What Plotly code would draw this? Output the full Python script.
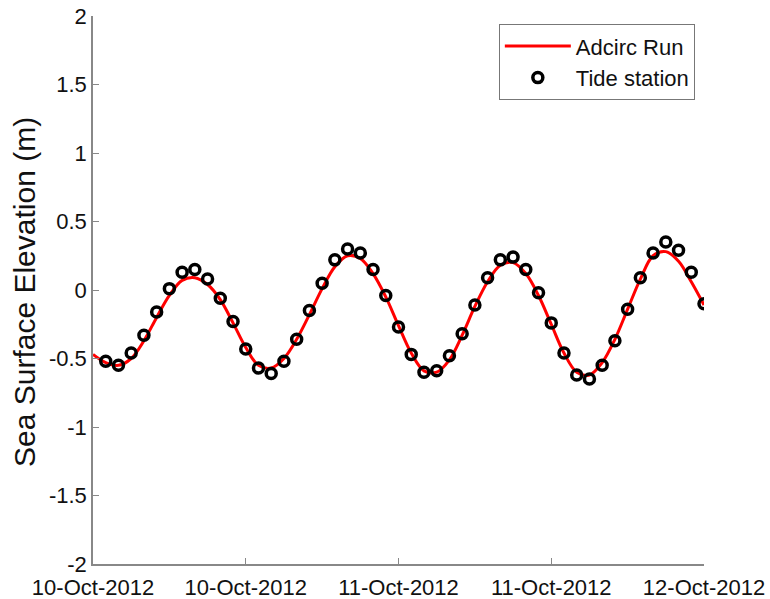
import plotly.graph_objects as go
import pandas as pd

# Hourly times from 10-Oct-2012 00:00 to 12-Oct-2012 00:00
model_hours = list(range(0, 49))
model_values = [-0.47, -0.53, -0.55, -0.50, -0.37, -0.20, -0.04, 0.07, 0.09, 0.04,
                -0.07, -0.24, -0.42, -0.55, -0.57, -0.50, -0.36, -0.18, 0.01, 0.17,
                0.25, 0.23, 0.12, -0.05, -0.26, -0.46, -0.59, -0.60, -0.51, -0.33,
                -0.12, 0.06, 0.18, 0.20, 0.12, -0.04, -0.25, -0.46, -0.60, -0.62,
                -0.53, -0.36, -0.14, 0.08, 0.25, 0.28, 0.21, 0.06, -0.11]

obs_hours = list(range(1, 49))
obs_values = [-0.52, -0.55, -0.46, -0.33, -0.16, 0.01, 0.13, 0.15, 0.08, -0.06,
              -0.23, -0.43, -0.57, -0.61, -0.52, -0.36, -0.15, 0.05, 0.22, 0.30,
              0.27, 0.15, -0.04, -0.27, -0.47, -0.60, -0.59, -0.48, -0.32, -0.11,
              0.09, 0.22, 0.24, 0.15, -0.02, -0.24, -0.46, -0.62, -0.65, -0.55,
              -0.37, -0.14, 0.09, 0.27, 0.35, 0.29, 0.13, -0.10]

tick_hours = [0, 12, 24, 36, 48]
tick_labels = ["10-Oct-2012", "10-Oct-2012", "11-Oct-2012", "11-Oct-2012", "12-Oct-2012"]
y_ticks = [-2, -1.5, -1, -0.5, 0, 0.5, 1, 1.5, 2]
y_tick_labels = ["-2", "-1.5", "-1", "-0.5", "0", "0.5", "1", "1.5", "2"]

start = pd.Timestamp("2012-10-10 00:00")
to_time = lambda hs: [start + pd.Timedelta(hours=h) for h in hs]

FONT = "Liberation Sans, Arial, Helvetica, sans-serif"

fig = go.Figure()
fig.add_trace(go.Scatter(
    x=to_time(model_hours), y=model_values, mode="lines", name="Adcirc Run",
    line=dict(color="#ff0000", width=3, shape="spline", smoothing=1.0),
))
fig.add_trace(go.Scatter(
    x=to_time(obs_hours), y=obs_values, mode="markers", name="Tide station",
    marker=dict(symbol="circle-open", size=10, color="black", line=dict(width=3.5, color="black")),
))

fig.update_layout(
    width=770, height=599,
    margin=dict(l=93, r=66, t=16, b=35),
    paper_bgcolor="white", plot_bgcolor="white",
    font=dict(family=FONT, color="#111111"),
    showlegend=True,
    legend=dict(
        x=0.985, y=0.985, xanchor="right", yanchor="top",
        bgcolor="white", bordercolor="#777777", borderwidth=1,
        font=dict(size=22, family=FONT, color="#111111"),
        tracegroupgap=0, itemwidth=66,
    ),
    xaxis=dict(
        range=[start, start + pd.Timedelta(hours=48)],
        tickvals=to_time(tick_hours), ticktext=tick_labels,
        showline=True, linecolor="#888888", linewidth=1.5,
        ticks="inside", ticklen=6, tickcolor="#888888", tickwidth=1,
        showgrid=False, zeroline=False, ticklabelstandoff=3, automargin=False,
        tickfont=dict(size=22, family=FONT, color="#111111"),
    ),
    yaxis=dict(
        range=[-2, 2], tickvals=y_ticks, ticktext=y_tick_labels,
        showline=True, linecolor="#888888", linewidth=1.5,
        ticks="inside", ticklen=6, tickcolor="#888888", tickwidth=1,
        showgrid=False, zeroline=False, automargin=False,
        tickfont=dict(size=22, family=FONT, color="#111111"),
    ),
    annotations=[dict(
        text="Sea Surface Elevation (m)", textangle=-90,
        xref="paper", yref="paper", x=0, y=0.5, xshift=-69, yshift=-2,
        xanchor="center", yanchor="middle", showarrow=False,
        font=dict(size=30, family=FONT, color="#111111"),
    )],
)

fig.write_html("out.html")
